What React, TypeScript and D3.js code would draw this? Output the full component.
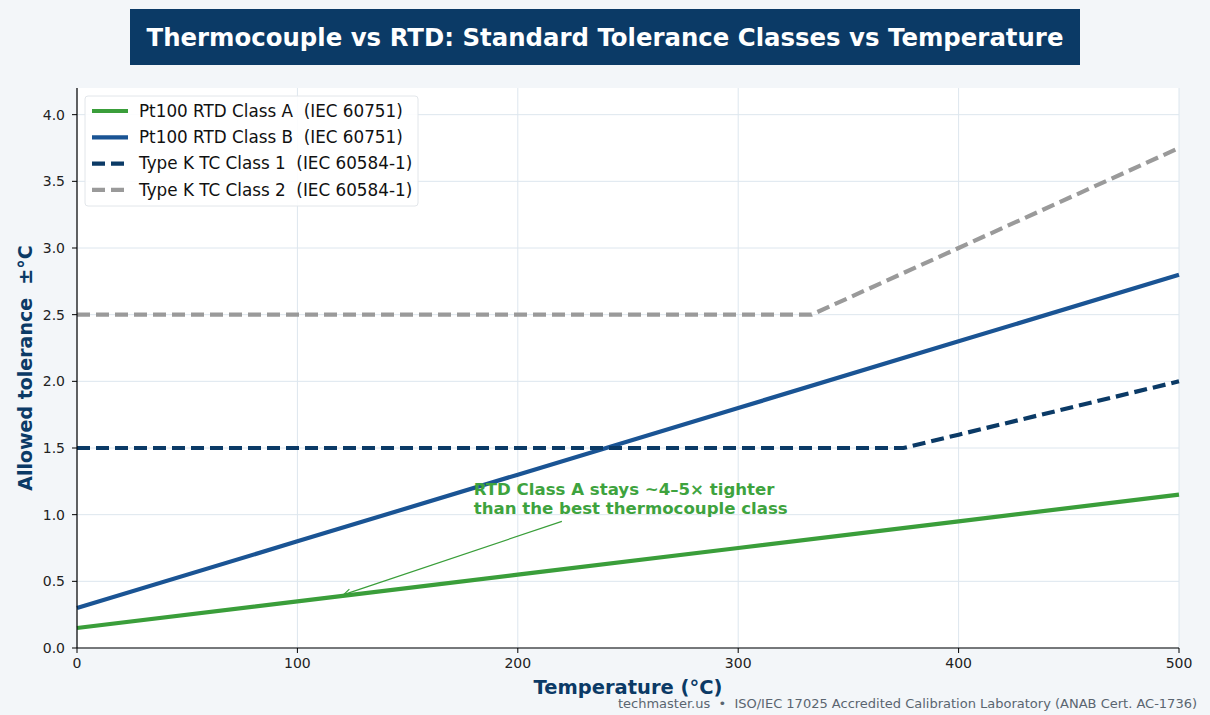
import React from "react";
import * as d3 from "d3";

// Tolerance readings (±°C) against temperature (°C)
const rtdTemps = [0, 100, 200, 300, 400, 500];
const rtdClassA = [0.15, 0.35, 0.55, 0.75, 0.95, 1.15];
const rtdClassB = [0.3, 0.8, 1.3, 1.8, 2.3, 2.8];

const tc1Temps = [0, 100, 200, 300, 375, 400, 500];
const tcClass1 = [1.5, 1.5, 1.5, 1.5, 1.5, 1.6, 2.0];

const tc2Temps = [0, 100, 200, 300, 333.3, 400, 500];
const tcClass2 = [2.5, 2.5, 2.5, 2.5, 2.5, 3.0, 3.75];

const xTicks = [0, 100, 200, 300, 400, 500];
const yTicks = [0, 0.5, 1, 1.5, 2, 2.5, 3, 3.5, 4];

const series = [
  { name: "Pt100 RTD Class A  (IEC 60751)", xs: rtdTemps, ys: rtdClassA, color: "#3a9e3a", dash: "" },
  { name: "Pt100 RTD Class B  (IEC 60751)", xs: rtdTemps, ys: rtdClassB, color: "#1a5494", dash: "" },
  { name: "Type K TC Class 1  (IEC 60584-1)", xs: tc1Temps, ys: tcClass1, color: "#0b3a66", dash: "13,6" },
  { name: "Type K TC Class 2  (IEC 60584-1)", xs: tc2Temps, ys: tcClass2, color: "#9a9a9a", dash: "13,6" },
];

const W = 1210;
const H = 715;
const m = { left: 77, right: 31, top: 88, bottom: 67 };
const font = "'DejaVu Sans', sans-serif";
const pre = { whiteSpace: "pre" as const };

export default function App() {
  const x = d3.scaleLinear().domain([0, 500]).range([m.left, W - m.right]);
  const y = d3.scaleLinear().domain([0, 4.2]).range([H - m.bottom, m.top]);
  const line = d3
    .line<[number, number]>()
    .x((d) => x(d[0]))
    .y((d) => y(d[1]));

  const x0 = x(0), x1 = x(500), y0 = y(0), y1 = y(4.2);

  // annotation: arrow from text to the Class A line
  const tip = [x(121), y(0.4)];
  const tail = [x(220), y(0.95)];
  const ang = Math.atan2(tail[1] - tip[1], tail[0] - tip[0]);
  const ah = 8;
  const head = `M${tip[0] + ah * Math.cos(ang - 0.45)},${tip[1] + ah * Math.sin(ang - 0.45)} L${tip[0]},${tip[1]} L${tip[0] + ah * Math.cos(ang + 0.45)},${tip[1] + ah * Math.sin(ang + 0.45)}`;

  return (
    <svg
      width={W}
      height={H}
      style={{ position: "absolute", left: 0, top: 0, background: "#f3f6f9" }}
      fontFamily={font}
    >
      <rect width={W} height={H} fill="#f3f6f9" />
      <rect x={x0} y={y1} width={x1 - x0} height={y0 - y1} fill="#ffffff" />

      {/* grid */}
      {xTicks.map((t) => (
        <line key={"gx" + t} x1={x(t)} x2={x(t)} y1={y1} y2={y0} stroke="#dde6ee" strokeWidth={1} />
      ))}
      {yTicks.map((t) => (
        <line key={"gy" + t} x1={x0} x2={x1} y1={y(t)} y2={y(t)} stroke="#dde6ee" strokeWidth={1} />
      ))}

      {/* series */}
      {series.map((s) => (
        <path
          key={s.name}
          d={line(s.xs.map((v, i) => [v, s.ys[i]]) as [number, number][]) || ""}
          fill="none"
          stroke={s.color}
          strokeWidth={4.2}
          strokeDasharray={s.dash || undefined}
        />
      ))}

      {/* axes */}
      <line x1={x0} x2={x0} y1={y1} y2={y0} stroke="#000" strokeWidth={1.2} />
      <line x1={x0} x2={x1} y1={y0} y2={y0} stroke="#000" strokeWidth={1.2} />
      {xTicks.map((t) => (
        <g key={"tx" + t}>
          <line x1={x(t)} x2={x(t)} y1={y0} y2={y0 + 5} stroke="#000" />
          <text x={x(t)} y={y0 + 20} textAnchor="middle" fontSize={14} fill="#222">
            {t}
          </text>
        </g>
      ))}
      {yTicks.map((t) => (
        <g key={"ty" + t}>
          <line x1={x0 - 5} x2={x0} y1={y(t)} y2={y(t)} stroke="#000" />
          <text x={x0 - 12} y={y(t)} dy="0.35em" textAnchor="end" fontSize={14} fill="#222">
            {t.toFixed(1)}
          </text>
        </g>
      ))}

      {/* axis titles */}
      <text x={(x0 + x1) / 2} y={694} textAnchor="middle" fontSize={19.5} fontWeight="bold" fill="#0b3a66">
        Temperature (°C)
      </text>
      <text
        transform={`translate(32,${(y0 + y1) / 2}) rotate(-90)`}
        textAnchor="middle"
        fontSize={19}
        fontWeight="bold"
        fill="#0b3a66"
        style={pre}
      >
        {"Allowed tolerance  ±°C"}
      </text>

      {/* legend */}
      <rect x={85} y={96} width={333} height={110} rx={3} fill="#ffffff" fillOpacity={0.9} stroke="#e2e6ea" />
      {series.map((s, i) => {
        const cy = 111 + i * 26.3;
        return (
          <g key={"lg" + i}>
            <line x1={92} x2={128} y1={cy} y2={cy} stroke={s.color} strokeWidth={4.2} strokeDasharray={s.dash || undefined} />
            <text x={139} y={cy} dy="0.35em" fontSize={16.8} fill="#111" style={pre}>
              {s.name}
            </text>
          </g>
        );
      })}

      {/* annotation */}
      <line x1={tail[0]} y1={tail[1]} x2={tip[0]} y2={tip[1]} stroke="#3a9e3a" strokeWidth={1.2} />
      <path d={head} fill="none" stroke="#3a9e3a" strokeWidth={1.2} />
      <text x={x(180)} y={y(1.27)} fontSize={16.6} fontWeight="bold" fill="#3ea33e">
        <tspan x={x(180)} dy="1em">RTD Class A stays ~4–5× tighter</tspan>
        <tspan x={x(180)} dy="1.15em">than the best thermocouple class</tspan>
      </text>

      {/* title */}
      <rect x={130} y={9} width={950} height={56} fill="#0b3a66" />
      <text x={605} y={37} dy="0.35em" textAnchor="middle" fontSize={24.4} fontWeight="bold" fill="#ffffff">
        Thermocouple vs RTD: Standard Tolerance Classes vs Temperature
      </text>

      {/* footer */}
      <text x={1197} y={708} textAnchor="end" fontSize={13} fill="#5a6570" style={pre}>
        {"techmaster.us  •  ISO/IEC 17025 Accredited Calibration Laboratory (ANAB Cert. AC-1736)"}
      </text>
    </svg>
  );
}
